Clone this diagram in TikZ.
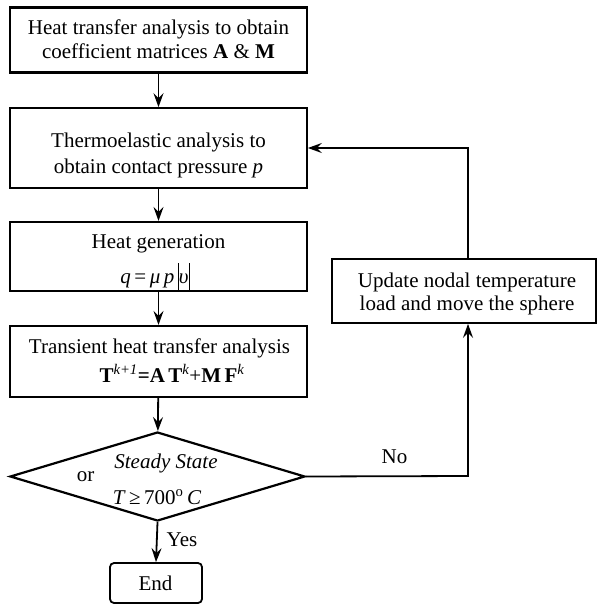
\documentclass[tikz,border=0pt]{standalone}
\usepackage{fontspec}
\setmainfont{Liberation Serif}
\usetikzlibrary{arrows.meta,shapes.geometric}
\newcommand{\vbarx}{\rule[-7pt]{1pt}{27pt}}
\begin{document}
\begin{tikzpicture}[x=1pt,y=-1pt,
  every node/.style={font=\fontsize{21}{25}\selectfont},
  box/.style={draw, line width=2.2pt, inner sep=0pt},
  thinbox/.style={draw, line width=1.7pt, inner sep=0pt},
  conn/.style={line width=1.8pt, -{Stealth[length=14pt,width=10pt,inset=5pt]}},
  lbl/.style={inner sep=0pt, anchor=base}]
\useasboundingbox (0,0) rectangle (597,604);
% boxes
\node[box, minimum width=297pt, minimum height=65pt] (b1) at (158.5,40) {};
\node[thinbox, minimum width=297pt, minimum height=80pt] (b2) at (158.5,148) {};
\node[box, minimum width=297pt, minimum height=69pt] (b3) at (158.5,256.5) {};
\node[box, minimum width=297pt, minimum height=71pt] (b4) at (158.5,361.5) {};
\node[draw, diamond, line width=2.2pt, minimum width=295pt, minimum height=89pt, inner sep=0pt] (dia) at (157.5,476.5) {};
\node[draw, line width=1.8pt, rounded corners=4pt, minimum width=92pt, minimum height=40pt, inner sep=0pt] (end) at (156,583) {};
\node[thinbox, minimum width=264pt, minimum height=64pt] (upd) at (464,291) {};
% texts
\node[lbl] (b1a) at (158.5,35) {Heat transfer analysis to obtain};
\node[lbl] (b1b) at (158.5,59) {coefficient matrices \textbf{A} \& \textbf{M}};
\node[lbl] (b2a) at (158.5,147) {Thermoelastic analysis to};
\node[lbl] (b2b) at (158.5,173) {obtain contact pressure \textit{p}};
\node[lbl] (b3a) at (158.5,248) {Heat generation};
\node[lbl] (b3b) at (155,283) {\textit{q}\,=\,\textit{μ\,p}\,\vbarx\textit{υ}\vbarx};
\node[lbl] (b4a) at (159.5,353) {Transient heat transfer analysis};
\node[lbl] (b4b) at (172,382) {\textbf{T}\textsuperscript{\itshape k+1}\textbf{=A\,T}\textsuperscript{\itshape k}+\textbf{M\,F}\textsuperscript{\itshape k}};
\node[lbl] (t1) at (166,468) {\textit{Steady State}};
\node[lbl] (t2) at (157,504) {\textit{T}\,≥\,700\textsuperscript{o}\,\textit{C}};
\node[lbl] (t3) at (85.5,481) {or};
\node[lbl] (endt) at (155.5,590) {End};
\node[lbl] (upa) at (467,287) {Update nodal temperature};
\node[lbl] (upb) at (467,310) {load and move the sphere};
\coordinate (c1) at (468,476);
% connectors
\draw[conn] (b1) -- (b2);
\draw[conn] (b2) -- (b3);
\draw[conn] (b3) -- (b4);
\draw[conn] (b4) -- (dia);
\draw[conn] (dia.south) -- (end.north);
\node[lbl] (yes) at (182,546) {Yes};
\draw[conn] (dia.east) -- (c1) -- (c1 |- upd.south);
\node[lbl] (no) at (394.5,463) {No};
\draw[conn] (c1 |- upd.north) |- (b2.east);
\end{tikzpicture}
\end{document}
